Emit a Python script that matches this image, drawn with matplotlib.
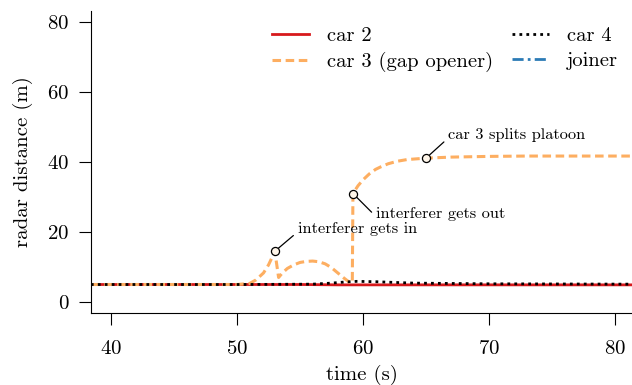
import matplotlib
matplotlib.use('Agg')
import matplotlib.pyplot as plt

plt.rcParams['font.family'] = 'serif'
plt.rcParams['font.serif'] = ['cmr10', 'DejaVu Serif']
plt.rcParams['mathtext.fontset'] = 'cm'
plt.rcParams['axes.formatter.use_mathtext'] = True

# radar distance traces (time in s, distance in m)
t_car2 = [38.4, 50.0, 55.0, 58.0, 62.0, 70.0, 81.4]
d_car2 = [5.0, 5.0, 5.0, 4.9, 4.9, 4.9, 4.9]

t_car3 = [38.4, 50.0, 51.0, 51.5, 52.1, 52.5, 52.8, 53.0, 53.3, 53.6, 54.0,
          54.5, 55.0, 55.5, 56.0, 56.5, 57.0, 57.5, 58.0, 58.5, 58.9, 59.15,
          59.2, 59.6, 60.0, 60.5, 61.0, 61.4, 62.0, 62.7, 63.5, 65.0, 67.0,
          70.0, 73.0, 76.0, 81.4]
d_car3 = [5.0, 5.0, 5.3, 6.3, 8.3, 10.6, 12.9, 14.5, 7.0, 8.3, 9.6,
          10.6, 11.3, 11.6, 11.7, 11.5, 10.9, 9.8, 8.3, 6.8, 5.7, 5.5,
          31.0, 33.2, 34.9, 36.6, 37.9, 38.6, 39.5, 40.2, 40.7, 41.1, 41.4,
          41.6, 41.7, 41.7, 41.7]

t_car4 = [38.4, 50.0, 56.0, 57.5, 58.5, 59.5, 61.0, 62.5, 64.0, 70.0, 81.4]
d_car4 = [5.0, 5.0, 5.1, 5.4, 5.7, 5.9, 5.8, 5.6, 5.4, 5.2, 5.1]

t_joiner = []
d_joiner = []

# highlighted events on the car 3 trace
event_t = [53.0, 59.2, 65.0]
event_d = [14.5, 31.0, 41.1]
event_labels = ['interferer gets in', 'interferer gets out', 'car 3 splits platoon']
event_offsets = [(16.5, 16), (16.5, -14.5), (16, 16.5)]

fig = plt.figure(figsize=(6.32, 3.85), dpi=100)
ax = fig.add_axes([91 / 632, 72 / 385, 541 / 632, 302 / 385])

ax.plot(t_car2, d_car2, color='#d7191c', lw=2.0, label='car 2')
ax.plot(t_car3, d_car3, color='#fdae61', lw=2.2, ls=(0, (2.8, 1.5)), label='car 3 (gap opener)')
ax.plot(t_car4, d_car4, color='black', lw=2.0, ls=(0, (1, 1.5)), label='car 4')
ax.plot(t_joiner, d_joiner, color='#2c7bb6', lw=2.0, ls=(0, (4, 1.5, 1, 1.5)), label='joiner')

ax.scatter(event_t, event_d, s=34, facecolor='#fff6ea', edgecolor='black', linewidth=0.9, zorder=5)
for x, y, txt, off in zip(event_t, event_d, event_labels, event_offsets):
    ax.annotate(txt, xy=(x, y), xytext=off, textcoords='offset points',
                fontsize=11.8, ha='left', va='center',
                arrowprops=dict(arrowstyle='-', color='black', lw=0.9,
                                relpos=(0, 0.3), shrinkA=1.5, shrinkB=3.5))

ax.set_xlim(38.41, 81.35)
ax.set_ylim(-3.14, 83.14)
ax.set_xticks([40, 50, 60, 70, 80])
ax.set_yticks([0, 20, 40, 60, 80])
ax.spines['top'].set_visible(False)
ax.spines['right'].set_visible(False)
for s in ('left', 'bottom'):
    ax.spines[s].set_linewidth(0.8)
ax.tick_params(direction='out', length=8.6, width=0.8, labelsize=15)
ax.tick_params(axis='x', pad=11)
ax.tick_params(axis='y', pad=7)
ax.set_xlabel('time (s)', fontsize=15, labelpad=5)
ax.set_ylabel('radar distance (m)', fontsize=15, labelpad=10)

ax.legend(ncol=2, loc='upper right', frameon=False, fontsize=14.8,
          handlelength=1.8, handletextpad=0.9, columnspacing=0.9,
          labelspacing=0.33, borderaxespad=0.0, bbox_to_anchor=(0.99, 0.975))

fig.savefig('out.png', dpi=100)
